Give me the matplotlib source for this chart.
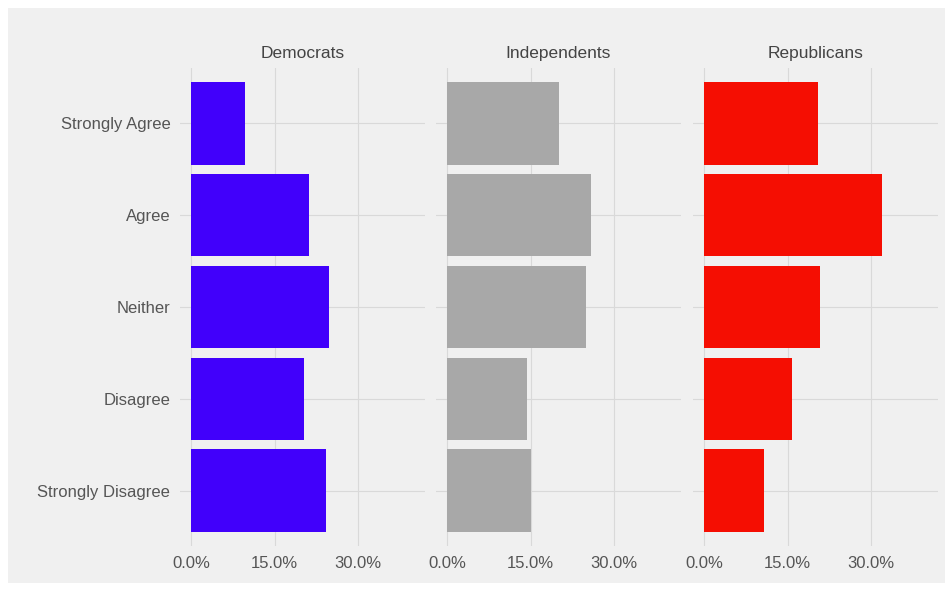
import numpy as np
import matplotlib.pyplot as plt
from matplotlib.patches import Rectangle
from matplotlib.ticker import FuncFormatter

plt.rcParams['font.family'] = ['Liberation Sans', 'DejaVu Sans']

# survey answers, top to bottom
answers = ['Strongly Agree', 'Agree', 'Neither', 'Disagree', 'Strongly Disagree']
parties = ['Democrats', 'Independents', 'Republicans']
colors = ['#4100fb', '#a8a8a8', '#f50e02']

# shares
dem = [0.097, 0.212, 0.248, 0.203, 0.243]
ind = [0.201, 0.259, 0.250, 0.144, 0.151]
rep = [0.205, 0.320, 0.208, 0.158, 0.108]
values = [dem, ind, rep]

xticks = [0.0, 0.15, 0.30]

W, H = 953, 594
fig = plt.figure(figsize=(W / 100, H / 100), dpi=100)
fig.patch.set_facecolor('white')
fig.patches.append(Rectangle((8 / W, 11 / H), 937 / W, 575 / H,
                             transform=fig.transFigure, facecolor='#f0f0f0',
                             edgecolor='none', zorder=-10))

left_px = [180, 436, 693]
width_px = 245
top_px, bot_px = 68, 546

y = np.arange(len(answers))
for i, (party, vals, col) in enumerate(zip(parties, values, colors)):
    ax = fig.add_axes([left_px[i] / W, (H - bot_px) / H,
                       width_px / W, (bot_px - top_px) / H])
    ax.set_facecolor('none')
    ax.barh(y, vals, height=0.9, color=col, zorder=2)
    ax.set_xlim(-0.02, 0.42)
    ax.set_ylim(len(answers) - 0.4, -0.6)
    ax.set_xticks(xticks)
    ax.xaxis.set_major_formatter(FuncFormatter(lambda v, p: f'{v * 100:.1f}%'))
    ax.set_yticks(y)
    if i == 0:
        ax.set_yticklabels(answers)
    else:
        ax.set_yticklabels([])
    ax.grid(True, color='#d9d9d9', linewidth=0.8, zorder=0)
    ax.set_axisbelow(True)
    for s in ax.spines.values():
        s.set_visible(False)
    ax.tick_params(length=0, labelsize=12, colors='#555555', pad=7)
    ax.set_title(party, fontsize=12.5, color='#444444', pad=7)

fig.savefig('out.png', dpi=100)
